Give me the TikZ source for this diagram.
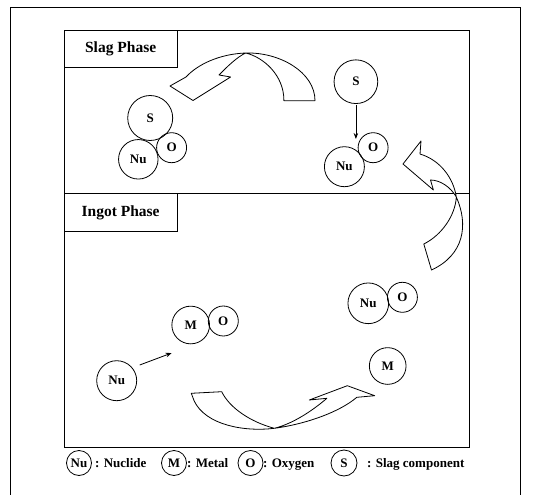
\documentclass[tikz,border=0pt]{standalone}
\usepackage{fontspec}
\setmainfont{Liberation Serif}
\usetikzlibrary{arrows.meta}
\begin{document}
\begin{tikzpicture}[x=1pt,y=-1pt,
  ln/.style={line width=0.8pt},
  ball/.style={circle,draw,line width=0.8pt,inner sep=0pt,font=\bfseries\fontsize{13}{13}\selectfont},
  lball/.style={circle,draw,line width=0.8pt,inner sep=0pt,minimum size=25pt,font=\bfseries\fontsize{13}{13}\selectfont},
  phaselbl/.style={draw,line width=0.8pt,anchor=north west,minimum width=112.5pt,font=\bfseries\fontsize{15.5}{15.5}\selectfont},
  legtxt/.style={font=\bfseries\fontsize{13}{13}\selectfont,anchor=base west,inner sep=0pt},
  arr/.style={line width=0.8pt,-{Stealth[length=6pt,width=4.5pt]}},
  blk/.style={line width=0.8pt,fill=white,line join=round}]
\useasboundingbox (0,0) rectangle (546,495);
\fill[white] (0,0) rectangle (546,495);
% frames
\draw[ln] (10,495) -- (10,7.5) -- (520.5,7.5) -- (520.5,495);
\draw[ln] (64,30) rectangle (469,447);
\draw[ln] (64,193) -- (469,193);
\node[phaselbl,minimum height=37pt] (slag) at (64,30) {Slag Phase};
\node[phaselbl,minimum height=38pt] (ingot) at (64,193) {Ingot Phase};
% slag phase, left cluster
\node[ball,minimum size=45pt] (sA) at (150.2,118) {S};
\node[ball,minimum size=39.5pt] (nuA) at (138.3,159.3) {Nu};
\node[ball,minimum size=30pt] (oA) at (171.6,147.7) {O};
% slag phase, right
\node[ball,minimum size=43.7pt] (sB) at (355.9,81.7) {S};
\node[ball,minimum size=40pt] (nuB) at (344.4,166.7) {Nu};
\node[ball,minimum size=30pt] (oB) at (373.1,147.7) {O};
\coordinate (aB) at (355.9,139);
\draw[arr,shorten <=1.5pt] (sB) -- (aB);
% ingot phase
\node[ball,minimum size=37.7pt] (mC) at (190.7,325) {M};
\node[ball,minimum size=30pt] (oC) at (223.3,321) {O};
\node[ball,minimum size=40pt] (nuC) at (116.7,380.7) {Nu};
\coordinate (aCs) at (139.7,365);
\coordinate (aCe) at (171.7,353);
\draw[arr] (aCs) -- (aCe);
\node[ball,minimum size=40.7pt] (nuD) at (368.3,303.3) {Nu};
\node[ball,minimum size=30pt] (oD) at (402.4,297.3) {O};
\node[ball,minimum size=36.7pt] (mD) at (387.7,366) {M};
% curved block arrows
\draw[blk] (315,100.7) .. controls (315,72) and (279.4,52) .. (245.6,53)
  .. controls (220,54) and (198,64) .. (186,77)
  -- (170,86) -- (193,100.5) -- (230.6,77) -- (219,75)
  .. controls (227.7,66) and (237.3,57) .. (245.6,53)
  .. controls (263.1,57) and (284.1,75) .. (283.9,100.7) -- cycle;
\draw[blk] (431.5,270) .. controls (464,255) and (468.8,225) .. (456.3,197)
  .. controls (453.5,178) and (440.1,160) .. (420,154)
  -- (421,141) -- (403,164) -- (433.4,190) -- (430.5,180)
  .. controls (440.1,180) and (450.6,187) .. (456.3,197)
  .. controls (455.4,215) and (442,235) .. (423.8,244) -- cycle;
\draw[blk] (191.3,393.3) -- (194.2,401)
  .. controls (205.7,425) and (244,432) .. (274.3,428.3)
  .. controls (306.1,424) and (339.6,412) .. (356.8,397.3)
  -- (374.7,395.7) -- (347.3,385.7) -- (309.3,400) -- (326.9,398.3)
  .. controls (310.9,412) and (291.8,424) .. (274.3,428.3)
  .. controls (250.7,422) and (229.6,408) .. (221.7,391.7) -- cycle;
% legend
\node[lball] (lnu) at (79,463) {Nu};
\node[legtxt] (tnu) at (95,467.5) {: Nuclide};
\node[lball] (lm) at (174,463) {M};
\node[legtxt] (tm) at (187,467.5) {: Metal};
\node[lball] (lo) at (250.5,463) {O};
\node[legtxt] (to) at (263,467.5) {: Oxygen};
\node[lball,minimum size=26pt] (ls) at (344,463) {S};
\node[legtxt] (ts) at (367,467.5) {: Slag component};
\end{tikzpicture}
\end{document}
